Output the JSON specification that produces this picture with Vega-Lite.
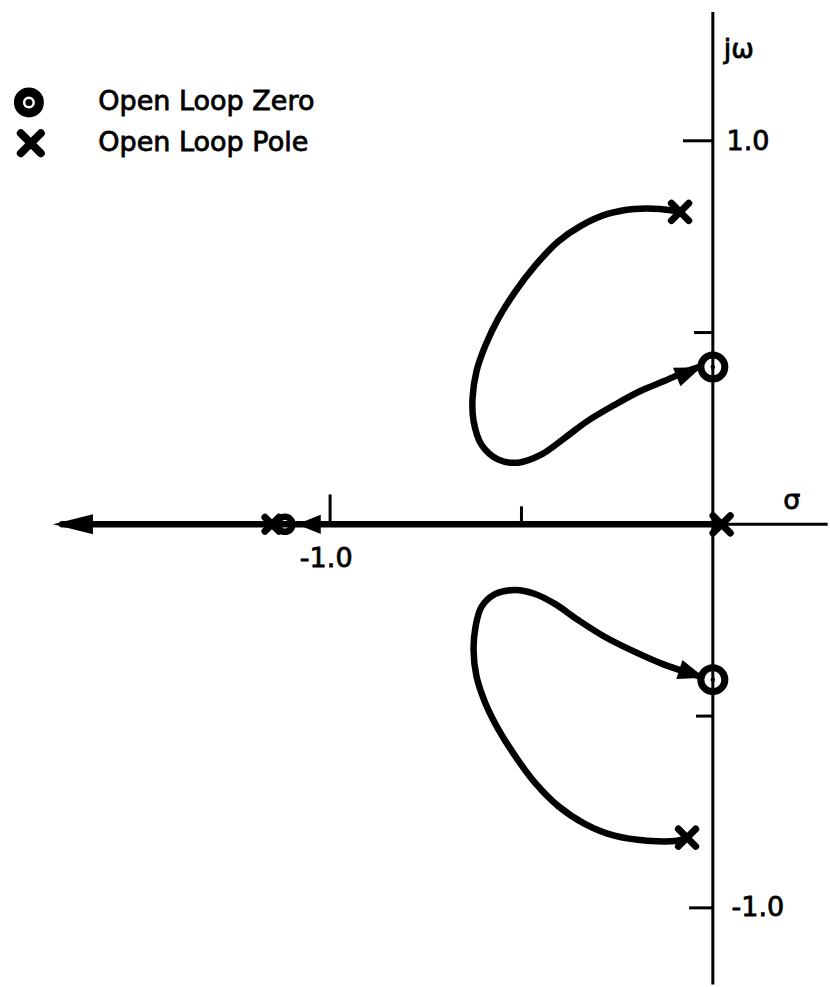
{
  "$schema": "https://vega.github.io/schema/vega-lite/v6.json",
  "width": 830,
  "height": 987,
  "padding": 0,
  "autosize": {"type": "fit", "contains": "padding"},
  "background": "white",
  "config": {"view": {"stroke": null}},
  "datasets": {
    "axisLines": [
      {"x": 0, "y": 1.336, "x2": 0, "y2": -1.2},
      {"x": 0, "y": 0, "x2": 0.3, "y2": 0},
      {"x": -0.078, "y": 1, "x2": 0, "y2": 1},
      {"x": -0.049, "y": 0.5, "x2": 0, "y2": 0.5},
      {"x": -0.044, "y": -0.5, "x2": 0, "y2": -0.5},
      {"x": -0.062, "y": -1, "x2": 0, "y2": -1},
      {"x": -1, "y": 0, "x2": -1, "y2": 0.078},
      {"x": -0.5, "y": 0, "x2": -0.5, "y2": 0.047}
    ],
    "loci": [
      {"branch": "real", "order": 0, "x": 0, "y": 0},
      {"branch": "real", "order": 1, "x": -1.70, "y": 0},
      {"branch": "upper", "order": 0, "x": -0.0856, "y": 0.8145},
      {"branch": "upper", "order": 1, "x": -0.1375, "y": 0.8223},
      {"branch": "upper", "order": 2, "x": -0.2049, "y": 0.8223},
      {"branch": "upper", "order": 3, "x": -0.2750, "y": 0.8093},
      {"branch": "upper", "order": 4, "x": -0.3450, "y": 0.7782},
      {"branch": "upper", "order": 5, "x": -0.4047, "y": 0.7367},
      {"branch": "upper", "order": 6, "x": -0.4643, "y": 0.6744},
      {"branch": "upper", "order": 7, "x": -0.5162, "y": 0.6070},
      {"branch": "upper", "order": 8, "x": -0.5603, "y": 0.5370},
      {"branch": "upper", "order": 9, "x": -0.5940, "y": 0.4669},
      {"branch": "upper", "order": 10, "x": -0.6174, "y": 0.3995},
      {"branch": "upper", "order": 11, "x": -0.6278, "y": 0.3294},
      {"branch": "upper", "order": 12, "x": -0.6252, "y": 0.2698},
      {"branch": "upper", "order": 13, "x": -0.6044, "y": 0.2075},
      {"branch": "upper", "order": 14, "x": -0.5603, "y": 0.1686},
      {"branch": "upper", "order": 15, "x": -0.5084, "y": 0.1608},
      {"branch": "upper", "order": 16, "x": -0.4488, "y": 0.1816},
      {"branch": "upper", "order": 17, "x": -0.3865, "y": 0.2257},
      {"branch": "upper", "order": 18, "x": -0.3268, "y": 0.2698},
      {"branch": "upper", "order": 19, "x": -0.2568, "y": 0.3113},
      {"branch": "upper", "order": 20, "x": -0.1894, "y": 0.3476},
      {"branch": "upper", "order": 21, "x": -0.1271, "y": 0.3735},
      {"branch": "upper", "order": 22, "x": -0.0674, "y": 0.3995},
      {"branch": "upper", "order": 23, "x": -0.0363, "y": 0.4099},
      {"branch": "lower", "order": 0, "x": -0.0674, "y": -0.8171},
      {"branch": "lower", "order": 1, "x": -0.0934, "y": -0.8249},
      {"branch": "lower", "order": 2, "x": -0.1712, "y": -0.8249},
      {"branch": "lower", "order": 3, "x": -0.2568, "y": -0.8119},
      {"branch": "lower", "order": 4, "x": -0.3346, "y": -0.7808},
      {"branch": "lower", "order": 5, "x": -0.4047, "y": -0.7341},
      {"branch": "lower", "order": 6, "x": -0.4643, "y": -0.6744},
      {"branch": "lower", "order": 7, "x": -0.5162, "y": -0.6044},
      {"branch": "lower", "order": 8, "x": -0.5603, "y": -0.5344},
      {"branch": "lower", "order": 9, "x": -0.5940, "y": -0.4669},
      {"branch": "lower", "order": 10, "x": -0.6174, "y": -0.3969},
      {"branch": "lower", "order": 11, "x": -0.6252, "y": -0.3268},
      {"branch": "lower", "order": 12, "x": -0.6200, "y": -0.2672},
      {"branch": "lower", "order": 13, "x": -0.6044, "y": -0.2153},
      {"branch": "lower", "order": 14, "x": -0.5681, "y": -0.1816},
      {"branch": "lower", "order": 15, "x": -0.5162, "y": -0.1712},
      {"branch": "lower", "order": 16, "x": -0.4643, "y": -0.1816},
      {"branch": "lower", "order": 17, "x": -0.4125, "y": -0.2075},
      {"branch": "lower", "order": 18, "x": -0.3528, "y": -0.2490},
      {"branch": "lower", "order": 19, "x": -0.2827, "y": -0.2931},
      {"branch": "lower", "order": 20, "x": -0.2049, "y": -0.3320},
      {"branch": "lower", "order": 21, "x": -0.1271, "y": -0.3658},
      {"branch": "lower", "order": 22, "x": -0.0493, "y": -0.3917},
      {"branch": "lower", "order": 23, "x": -0.0337, "y": -0.3969}
    ],
    "poles": [
      {"name": "upper", "x": -0.0856, "y": 0.8145},
      {"name": "lower", "x": -0.0674, "y": -0.8171},
      {"name": "origin", "x": 0.023, "y": 0},
      {"name": "far", "x": -1.152, "y": 0}
    ],
    "zeros": [
      {"name": "upper", "x": 0, "y": 0.41},
      {"name": "lower", "x": 0, "y": -0.405},
      {"name": "far", "x": -1.118, "y": 0}
    ],
    "arrows": [
      {"name": "upper", "x": -0.0623, "y": 0.3969},
      {"name": "lower", "x": -0.0545, "y": -0.3891},
      {"name": "nearZero", "x": -1.0558, "y": 0},
      {"name": "farLeft", "x": -1.672, "y": 0}
    ],
    "legend": [
      {"item": "zero", "x": -1.787, "y": 1.0999, "lx": -1.6057, "label": "Open Loop Zero"},
      {"item": "pole", "x": -1.782, "y": 0.9935, "lx": -1.6057, "label": "Open Loop Pole"}
    ],
    "labels": [
      {"text": "jω", "x": 0.0285, "y": 1.237},
      {"text": "1.0", "x": 0.036, "y": 0.996},
      {"text": "-1.0", "x": 0.049, "y": -1.001},
      {"text": "σ", "x": 0.184, "y": 0.062},
      {"text": "-1.0", "x": -1.079, "y": -0.0908}
    ]
  },
  "encoding": {
    "x": {"field": "x", "type": "quantitative", "axis": null,
          "scale": {"domain": [-1.8573, 0.2957], "nice": false, "zero": false}},
    "y": {"field": "y", "type": "quantitative", "axis": null,
          "scale": {"domain": [-1.1933, 1.3671], "nice": false, "zero": false}}
  },
  "layer": [
    {
      "data": {"name": "axisLines"},
      "mark": {"type": "rule", "color": "black", "strokeWidth": 3},
      "encoding": {
        "x2": {"field": "x2"},
        "y2": {"field": "y2"}
      }
    },
    {
      "data": {"name": "loci"},
      "mark": {"type": "line", "color": "black", "strokeWidth": 6.5, "strokeCap": "round", "strokeJoin": "round", "interpolate": "catmull-rom"},
      "encoding": {
        "detail": {"field": "branch"},
        "order": {"field": "order", "type": "quantitative"}
      }
    },
    {
      "data": {"name": "arrows"},
      "transform": [{"filter": "datum.name === 'upper'"}],
      "mark": {"type": "point", "shape": "M1,0L-1,-0.75L-1,0.75Z", "filled": true, "color": "black", "opacity": 1, "size": 700, "angle": 338}
    },
    {
      "data": {"name": "arrows"},
      "transform": [{"filter": "datum.name === 'lower'"}],
      "mark": {"type": "point", "shape": "M1,0L-1,-0.75L-1,0.75Z", "filled": true, "color": "black", "opacity": 1, "size": 700, "angle": 18}
    },
    {
      "data": {"name": "arrows"},
      "transform": [{"filter": "datum.name === 'nearZero'"}],
      "mark": {"type": "point", "shape": "M1,0L-1,-0.8L-1,0.8Z", "filled": true, "color": "black", "opacity": 1, "size": 576, "angle": 180}
    },
    {
      "data": {"name": "arrows"},
      "transform": [{"filter": "datum.name === 'farLeft'"}],
      "mark": {"type": "point", "shape": "M1,0L-1,-0.5L-1,0.5Z", "filled": true, "color": "black", "opacity": 1, "size": 1600, "angle": 180}
    },
    {
      "data": {"name": "zeros"},
      "transform": [{"filter": "datum.name !== 'far'"}],
      "mark": {"type": "point", "shape": "circle", "filled": false, "color": "black", "opacity": 1, "strokeWidth": 7, "size": 576}
    },
    {
      "data": {"name": "zeros"},
      "transform": [{"filter": "datum.name === 'far'"}],
      "mark": {"type": "point", "shape": "circle", "filled": false, "color": "black", "opacity": 1, "strokeWidth": 6.5, "size": 225}
    },
    {
      "data": {"name": "zeros"},
      "mark": {"type": "point", "shape": "circle", "filled": true, "color": "black", "opacity": 1, "size": 20}
    },
    {
      "data": {"name": "poles"},
      "transform": [{"filter": "datum.name !== 'far'"}],
      "mark": {"type": "point", "shape": "M-1,-1L1,1M-1,1L1,-1", "filled": false, "color": "black", "opacity": 1, "strokeWidth": 7, "strokeCap": "round", "size": 300}
    },
    {
      "data": {"name": "poles"},
      "transform": [{"filter": "datum.name === 'far'"}],
      "mark": {"type": "point", "shape": "M-1,-1L1,1M-1,1L1,-1", "filled": false, "color": "black", "opacity": 1, "strokeWidth": 7, "strokeCap": "round", "size": 196}
    },
    {
      "data": {"name": "legend"},
      "transform": [{"filter": "datum.item === 'zero'"}],
      "layer": [
        {"mark": {"type": "point", "shape": "circle", "filled": false, "color": "black", "opacity": 1, "strokeWidth": 9, "size": 441}},
        {"mark": {"type": "point", "shape": "circle", "filled": true, "color": "black", "opacity": 1, "size": 49}}
      ]
    },
    {
      "data": {"name": "legend"},
      "transform": [{"filter": "datum.item === 'pole'"}],
      "mark": {"type": "point", "shape": "M-1,-1L1,1M-1,1L1,-1", "filled": false, "color": "black", "opacity": 1, "strokeWidth": 8, "strokeCap": "round", "size": 400}
    },
    {
      "data": {"name": "legend"},
      "mark": {"type": "text", "align": "left", "baseline": "middle", "font": "DejaVu Sans", "fontSize": 27, "fill": "black", "stroke": "black", "strokeWidth": 0.8},
      "encoding": {
        "x": {"field": "lx", "type": "quantitative"},
        "text": {"field": "label"}
      }
    },
    {
      "data": {"name": "labels"},
      "mark": {"type": "text", "align": "left", "baseline": "middle", "font": "DejaVu Sans", "fontSize": 27, "fill": "black", "stroke": "black", "strokeWidth": 0.8},
      "encoding": {
        "text": {"field": "text"}
      }
    }
  ]
}
